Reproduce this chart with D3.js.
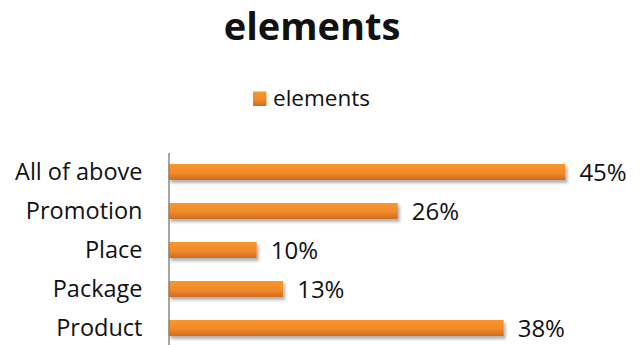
<!DOCTYPE html>
<html>
<head>
<meta charset="utf-8">
<script src="https://cdn.jsdelivr.net/npm/d3@7"></script>
<style>
  body { margin: 0; background: #fff; }
  text { font-family: "Open Sans", "Noto Sans", sans-serif; fill: #111; }
</style>
</head>
<body>
<div id="chart"></div>
<script>
const categories = ["All of above", "Promotion", "Place", "Package", "Product"];
const values = [0.45, 0.26, 0.10, 0.13, 0.38];
const seriesName = "elements";
const title = "elements";

const w = 641, h = 345;
const svg = d3.select("#chart").append("svg").attr("width", w).attr("height", h);

const defs = svg.append("defs");
const grad = defs.append("linearGradient").attr("id", "barGrad")
  .attr("x1", 0).attr("y1", 0).attr("x2", 0).attr("y2", 1);
grad.append("stop").attr("offset", "0%").attr("stop-color", "#f9962f");
grad.append("stop").attr("offset", "55%").attr("stop-color", "#f18a2a");
grad.append("stop").attr("offset", "100%").attr("stop-color", "#cd6d1f");
const shadow = defs.append("filter").attr("id", "shadow")
  .attr("x", "-5%").attr("y", "-30%").attr("width", "115%").attr("height", "180%");
shadow.append("feDropShadow").attr("dx", 2).attr("dy", 3).attr("stdDeviation", 1.8)
  .attr("flood-color", "#000").attr("flood-opacity", 0.3);

const x = d3.scaleLinear().domain([0, 0.5]).range([168.5, 609.5]);
const y = d3.scaleBand().domain(categories).range([152.5, 347.5]).paddingInner(0.59).paddingOuter(0.295);

// title
svg.append("text").attr("x", 312).attr("y", 40).attr("text-anchor", "middle")
  .style("font-size", "38px").style("font-weight", "bold").text(title);

// legend
svg.append("rect").attr("x", 253).attr("y", 91.5).attr("width", 13.5).attr("height", 14.5)
  .attr("fill", "url(#barGrad)");
svg.append("text").attr("x", 273).attr("y", 106).style("font-size", "22.5px").text(seriesName);

// bars
svg.selectAll("rect.bar").data(values).enter().append("rect")
  .attr("class", "bar")
  .attr("x", x(0))
  .attr("y", (d, i) => y(categories[i]))
  .attr("width", d => x(d) - x(0))
  .attr("height", y.bandwidth())
  .attr("fill", "url(#barGrad)")
  .attr("filter", "url(#shadow)");

// value labels
svg.selectAll("text.val").data(values).enter().append("text")
  .attr("class", "val")
  .attr("x", d => x(d) + 14)
  .attr("y", (d, i) => y(categories[i]) + y.bandwidth() / 2)
  .attr("dy", "0.36em")
  .style("font-size", "24px")
  .text(d => Math.round(d * 100) + "%");

// y axis
const yAxis = d3.axisLeft(y).tickSize(0).tickPadding(26);
const gy = svg.append("g").attr("transform", "translate(" + x(0) + ",0)").call(yAxis);
gy.select(".domain").attr("stroke", "#888").attr("stroke-width", 1.5);
gy.selectAll("text").style("font-size", "23.5px").style("font-family", "\"Open Sans\", sans-serif").attr("fill", "#111");
</script>
</body>
</html>
